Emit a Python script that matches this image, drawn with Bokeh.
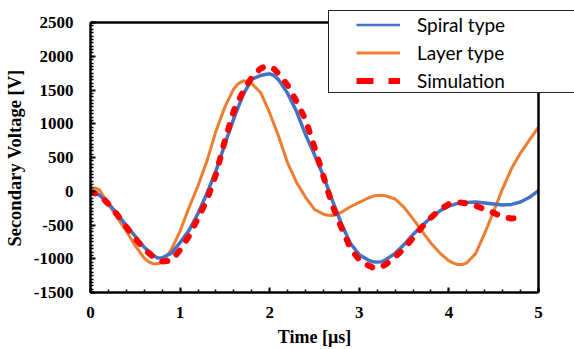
from bokeh.plotting import figure
from bokeh.models import Range1d, SingleIntervalTicker, Legend, LegendItem, Span
from bokeh.embed import file_html
from bokeh.resources import INLINE

# ---- data ----
spiral_t = [0.0, 0.1, 0.2, 0.3, 0.4, 0.5, 0.6, 0.7, 0.75, 0.8, 0.9,
            1.0, 1.1, 1.2, 1.3, 1.4, 1.5, 1.6, 1.7, 1.8, 1.9, 1.95,
            2.0, 2.05, 2.1, 2.2, 2.3, 2.4, 2.5, 2.6, 2.7, 2.8, 2.9,
            3.0, 3.1, 3.15, 3.2, 3.25, 3.3, 3.4, 3.5, 3.6, 3.7, 3.8, 3.9,
            4.0, 4.1, 4.2, 4.3, 4.4, 4.5, 4.6, 4.7, 4.8, 4.9, 5.0]
spiral_v = [20, -60, -180, -340, -510, -670, -830, -950, -990, -985, -920,
            -760, -580, -330, -30, 300, 700, 1080, 1420, 1660, 1715, 1730,
            1740, 1715, 1650, 1450, 1180, 840, 540, 225, -140, -480, -770,
            -940, -1020, -1045, -1050, -1045, -1010, -920, -790, -640, -510, -390, -290,
            -220, -180, -165, -160, -175, -190, -205, -195, -160, -90, 10]

layer_t = [0.0, 0.05, 0.1, 0.2, 0.3, 0.4, 0.5, 0.6, 0.65, 0.7, 0.75, 0.8, 0.9,
           1.0, 1.1, 1.2, 1.3, 1.4, 1.5, 1.6, 1.65, 1.7, 1.75, 1.8, 1.9,
           2.0, 2.1, 2.2, 2.3, 2.4, 2.5, 2.6, 2.65, 2.7, 2.75, 2.8, 2.9,
           3.0, 3.1, 3.15, 3.2, 3.25, 3.3, 3.4, 3.5, 3.6, 3.7, 3.8, 3.9,
           4.0, 4.05, 4.1, 4.15, 4.2, 4.3, 4.4, 4.5, 4.6, 4.7, 4.8, 4.9, 5.0]
layer_v = [0, 50, 20, -190, -390, -590, -810, -990, -1045, -1075, -1075, -1050, -870,
           -590, -240, 80, 450, 890, 1250, 1520, 1595, 1632, 1635, 1595, 1460,
           1160, 810, 420, 130, -90, -270, -340, -355, -360, -345, -310, -230,
           -165, -100, -75, -62, -58, -70, -115, -240, -410, -590, -770, -915,
           -1030, -1065, -1085, -1085, -1060, -920, -620, -300, 40, 340, 570, 760, 950]

sim_t = [0.0, 0.1, 0.2, 0.3, 0.4, 0.5, 0.6, 0.7, 0.8, 0.9,
         1.0, 1.1, 1.2, 1.3, 1.4, 1.5, 1.6, 1.7, 1.8, 1.9, 1.95,
         2.0, 2.05, 2.1, 2.2, 2.3, 2.4, 2.5, 2.6, 2.7, 2.8, 2.9,
         3.0, 3.1, 3.15, 3.2, 3.25, 3.3, 3.4, 3.5, 3.6, 3.7, 3.8, 3.9,
         4.0, 4.1, 4.2, 4.3, 4.4, 4.5, 4.6, 4.7, 4.8, 4.85]
sim_v = [-10, -50, -190, -350, -530, -700, -860, -970, -1040, -1030,
         -870, -660, -400, -130, 250, 750, 1195, 1470, 1690, 1820, 1850,
         1850, 1810, 1740, 1570, 1330, 1060, 650, 220, -210, -540, -840,
         -1020, -1100, -1130, -1140, -1120, -1080, -970, -850, -690, -530, -390, -270,
         -190, -160, -180, -215, -270, -320, -380, -405, -390, -380]

x_ticks = [0, 1, 2, 3, 4, 5]
x_labels = ["0", "1", "2", "3", "4", "5"]
y_ticks = [-1500, -1000, -500, 0, 500, 1000, 1500, 2000, 2500]
y_labels = ["-1500", "-1000", "-500", "0", "500", "1000", "1500", "2000", "2500"]

series_names = ["Spiral type", "Layer type", "Simulation"]
x_title = "Time [\u03bcs]"
y_title = "Secondary Voltage [V]"

BLUE = "#4472C4"
ORANGE = "#ED7D31"
RED = "#FF0000"

x_min, x_max = x_ticks[0], x_ticks[-1]
y_min, y_max = y_ticks[0], y_ticks[-1]

# frame spans the whole area right of / above the axes; the plotted box
# (0..5, -1500..2500) sits inside it, leaving room for the legend box
W, H = 574, 349
left_b, bottom_b = 90, 57
box_w, box_h = 448, 270          # pixel size of the 0..5 x -1500..2500 box
frame_w, frame_h = W - left_b, H - bottom_b
x_view_max = x_min + (x_max - x_min) * frame_w / box_w
y_view_max = y_min + (y_max - y_min) * frame_h / box_h

p = figure(width=W, height=H, output_backend="svg", toolbar_location=None,
           x_range=Range1d(x_min, x_view_max), y_range=Range1d(y_min, y_view_max),
           min_border_left=left_b, min_border_right=0, min_border_top=0,
           min_border_bottom=bottom_b)
p.title.visible = False

p.grid.visible = False
p.background_fill_color = "white"
p.border_fill_color = "white"
p.outline_line_color = None

r_layer = p.line(layer_t, layer_v, line_color=ORANGE, line_width=3)
r_spiral = p.line(spiral_t, spiral_v, line_color=BLUE, line_width=3.5)
r_sim = p.line(sim_t, sim_v, line_color=RED, line_width=6,
               line_dash="5 12", line_cap="round")

# right edge of the plot box
p.segment(x0=[x_max], y0=[y_min], x1=[x_max], y1=[y_max],
          line_color="black", line_width=2.5)
# top edge of the plot box (its right part is hidden under the legend)
p.add_layout(Span(location=y_max, dimension="width", line_color="black",
                  line_width=2.5))

# legend proxies: same series on an off-screen range, styled like the legend samples
p.extra_y_ranges = {"hidden": Range1d(100000, 100001)}
lg_spiral = p.line(spiral_t, spiral_v, y_range_name="hidden",
                   line_color=BLUE, line_width=2.5)
lg_layer = p.line(layer_t, layer_v, y_range_name="hidden",
                  line_color=ORANGE, line_width=3)
lg_sim = p.line(sim_t, sim_v, y_range_name="hidden",
                line_color=RED, line_width=6, line_dash="17 15")
lg_box = p.line(sim_t, sim_v, y_range_name="hidden", line_alpha=0)

# axes
for ax in (p.xaxis[0], p.yaxis[0]):
    ax.axis_line_color = "black"
    ax.axis_line_width = 2.5
    ax.major_tick_line_color = "black"
    ax.minor_tick_line_color = "black"
    ax.major_tick_line_width = 2
    ax.minor_tick_line_width = 1.5
    ax.major_tick_out = 0
    ax.minor_tick_out = 0
    ax.major_label_text_font = "Liberation Serif"
    ax.major_label_text_font_style = "bold"
    ax.major_label_text_font_size = "17px"
    ax.major_label_text_color = "black"
    ax.axis_label_text_font = "Liberation Serif"
    ax.axis_label_text_font_style = "bold"
    ax.axis_label_text_color = "black"

p.xaxis.bounds = (x_min, x_max)
p.yaxis.bounds = (y_min, y_max)
p.xaxis.axis_label_text_font_size = "18px"
p.yaxis.axis_label_text_font_size = "18.5px"
p.xaxis.ticker = SingleIntervalTicker(interval=1, num_minor_ticks=5)
p.yaxis.ticker = SingleIntervalTicker(interval=500, num_minor_ticks=10)
p.xaxis.major_label_overrides = {t: s for t, s in zip(x_ticks, x_labels)}
p.yaxis.major_label_overrides = {t: s for t, s in zip(y_ticks, y_labels)}
p.xaxis.major_tick_in = 5
p.xaxis.minor_tick_in = 3
p.yaxis.major_tick_in = 5
p.yaxis.minor_tick_in = 3
# axis titles are centred on the whole frame; trailing no-break spaces
# move the visible words back over the plotted box
p.xaxis.axis_label = x_title + "\u00a0" * 8
p.yaxis.axis_label = y_title + "\u00a0" * 5
p.xaxis.major_label_standoff = 14
p.xaxis.axis_label_standoff = 6
p.yaxis.major_label_standoff = 17
p.yaxis.axis_label_standoff = 6

# legend frame: a legend with one invisible wide glyph, white background
legend_box = Legend(items=[LegendItem(label=" ", renderers=[lg_box])],
                    location=(238, 199), padding=0, margin=0, spacing=0,
                    glyph_width=245, glyph_height=81, label_width=0,
                    label_height=0, label_standoff=0,
                    label_text_font_size="1px",
                    border_line_color="#222222", border_line_width=1.2,
                    border_line_alpha=1.0,
                    background_fill_color="white", background_fill_alpha=1.0)
p.add_layout(legend_box)

legend = Legend(items=[LegendItem(label=series_names[0], renderers=[lg_spiral]),
                       LegendItem(label=series_names[1], renderers=[lg_layer]),
                       LegendItem(label=series_names[2], renderers=[lg_sim])],
                location=(266, 200), padding=0, margin=0, spacing=5,
                label_height=23, glyph_height=23, glyph_width=44,
                label_standoff=17, label_text_font="Lato",
                label_text_font_size="19px", label_text_color="black",
                border_line_alpha=0, background_fill_alpha=0)
p.add_layout(legend)

open("out.html", "w").write(file_html(p, INLINE))
